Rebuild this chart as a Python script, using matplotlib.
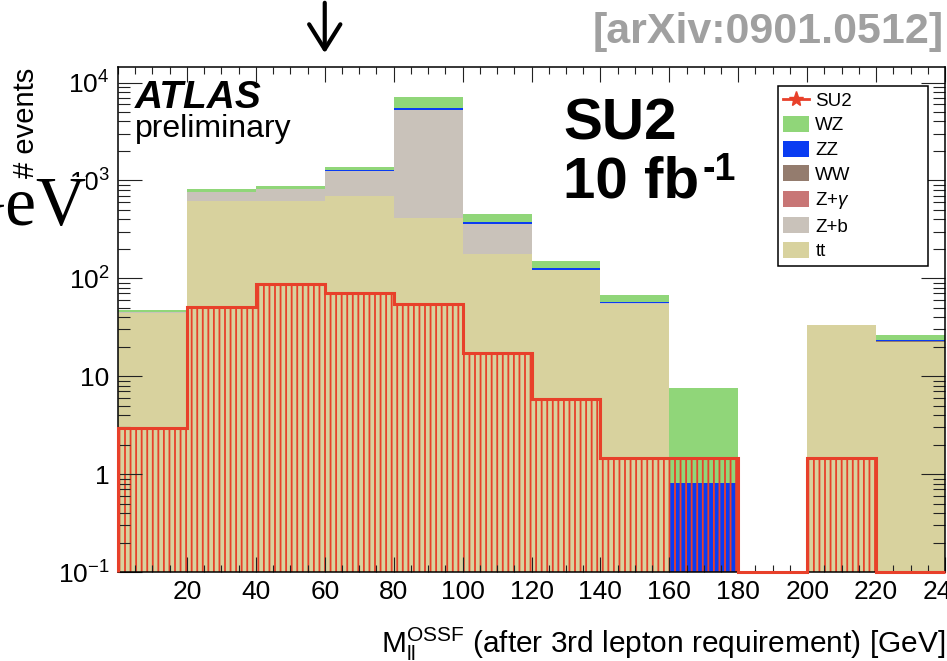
import numpy as np
import matplotlib.pyplot as plt
from matplotlib.lines import Line2D
from matplotlib.patches import Patch
from matplotlib.ticker import FixedLocator, LogLocator, MultipleLocator, NullFormatter, FuncFormatter

plt.rcParams['font.family'] = ['Liberation Sans', 'DejaVu Sans']
plt.rcParams['mathtext.fontset'] = 'custom'
plt.rcParams['mathtext.rm'] = 'Liberation Sans'
plt.rcParams['mathtext.it'] = 'Liberation Sans:italic'
plt.rcParams['mathtext.bf'] = 'Liberation Sans:bold'
plt.rcParams['hatch.linewidth'] = 1.3

# bin edges in GeV, 20 GeV bins
edges = np.arange(0, 260, 20)

# stacked backgrounds, bottom to top
tt   = [44.5, 620, 620, 700, 414, 178, 121, 55, 0, 0, 33.6, 22.5]
zb   = [0.5, 135, 188, 535, 4820, 178, 1, 0.3, 0, 0, 0, 0]
zgam = [0.2, 3, 4, 8, 20, 2, 0.4, 0.1, 0, 0, 0, 0]
ww   = [0.2, 2, 2, 3, 6, 1.5, 0.6, 0.3, 0, 0, 0, 0.2]
zz   = [0.3, 6, 6, 18, 280, 16, 4, 1.5, 0.82, 0, 0, 0.6]
wz   = [2, 52, 65, 95, 1510, 75, 24, 10, 6.8, 0, 0, 3]

# signal
su2  = [2.95, 51, 88, 70, 55, 17.4, 5.8, 1.47, 1.47, 0, 1.47, 0]

bkg_names  = ['tt', 'Z+b', r'Z+$\gamma$', 'WW', 'ZZ', 'WZ']
bkg_colors = ['#d8d29e', '#c9c2ba', '#c87676', '#947c6e', '#0a3cf2', '#90d679']
red = '#e8402a'

ymin, ymax = 0.1, 1.44e4

fig = plt.figure(figsize=(9.47, 6.61), dpi=100)
ax = fig.add_axes([118/947, 89/661, 827/947, 505/661])

cum = np.cumsum([tt, zb, zgam, ww, zz, wz], axis=0)
for i in reversed(range(len(cum))):
    ax.bar(edges[:-1], cum[i], width=20, align='edge', color=bkg_colors[i],
           linewidth=0, log=True)

# SU2 hatched overlay
ax.bar(edges[:-1], su2, width=20, align='edge', fill=False, hatch='|||',
       edgecolor=red, linewidth=0, log=True)
ax.stairs(np.clip(su2, ymin, None), edges, baseline=ymin, color=red, lw=2.2,
          clip_on=False, zorder=3)

ax.set_xlim(0, 240)
ax.set_ylim(ymin, ymax)

ax.xaxis.set_major_locator(FixedLocator(np.arange(20, 260, 20)))
ax.xaxis.set_minor_locator(MultipleLocator(5))
ax.yaxis.set_major_locator(FixedLocator([0.1, 1, 10, 100, 1000, 10000]))
ax.yaxis.set_minor_locator(LogLocator(base=10, subs=np.arange(2, 10), numticks=20))
ax.yaxis.set_minor_formatter(NullFormatter())


def ylab(v, pos):
    if v == 1:
        return '1'
    if v == 10:
        return '10'
    return r'$\mathregular{10^{%d}}$' % int(round(np.log10(v)))


ax.yaxis.set_major_formatter(FuncFormatter(ylab))

ax.tick_params(which='both', direction='in', top=True, right=True,
               width=0.8, color='#222222', labelsize=19)
ax.tick_params(axis='x', which='major', length=10.5, pad=6)
ax.tick_params(axis='x', which='minor', length=5)
ax.tick_params(axis='y', which='major', length=17, pad=6)
ax.tick_params(axis='y', which='minor', length=8.5)
for s in ax.spines.values():
    s.set_linewidth(1.1)

# legend
handles = [Line2D([], [], color=red, lw=2, marker='*', ms=11)]
labels = ['SU2']
for i in reversed(range(len(bkg_names))):
    handles.append(Patch(facecolor=bkg_colors[i], edgecolor='none'))
    labels.append(bkg_names[i])
leg = ax.legend(handles, labels, loc='upper left',
                bbox_to_anchor=(777.7/947, 1 - 257.7/661, 150/947, 172/661),
                bbox_transform=fig.transFigure, mode='expand', borderaxespad=0,
                fontsize=13.5, labelspacing=0.33, handlelength=1.38, handleheight=0.94,
                handletextpad=0.33, borderpad=0.3, fancybox=False, framealpha=1)
leg.get_frame().set_edgecolor('black')
leg.get_frame().set_linewidth(1.1)

# texts
fig.text(135/947, 1 - 108/661, 'ATLAS', fontsize=28, weight='bold', style='italic',
         va='baseline')
fig.text(135/947, 1 - 137/661, 'preliminary', fontsize=23, va='baseline')
fig.text(563/947, 1 - 140/661, 'SU2', fontsize=42, weight='bold', va='baseline')
fig.text(563/947, 1 - 198/661, '10 fb', fontsize=42, weight='bold', va='baseline')
fig.text(702/947, 1 - 180/661, '-1', fontsize=27, weight='bold', va='baseline')
fig.text(944/947, 1 - 43/661, '[arXiv:0901.0512]', fontsize=31, weight='bold',
         color='#a0a0a0', ha='right', va='baseline')
fig.text(86/947, 1 - 225/661, 'GeV', fontsize=50, family='Liberation Serif',
         ha='right', va='baseline',
         bbox=dict(facecolor='white', edgecolor='none', pad=0))
fig.text(26/947, 1 - 123/661, '# events', fontsize=21, rotation=90,
         ha='center', va='center')
fig.text(945/947, 1 - 653/661,
         r'$\mathregular{M_{ll}^{OSSF}}$ (after 3rd lepton requirement) [GeV]',
         fontsize=21.5, ha='right', va='baseline')

# arrow at the top
ax.annotate('', xy=(60, 1 - 56/661), xycoords=('data', 'figure fraction'),
            xytext=(60, 1.0), textcoords=('data', 'figure fraction'),
            arrowprops=dict(arrowstyle='->, head_length=0.4, head_width=0.25',
                            lw=3, color='black', mutation_scale=45),
            annotation_clip=False)

fig.savefig('out.png', dpi=100)
